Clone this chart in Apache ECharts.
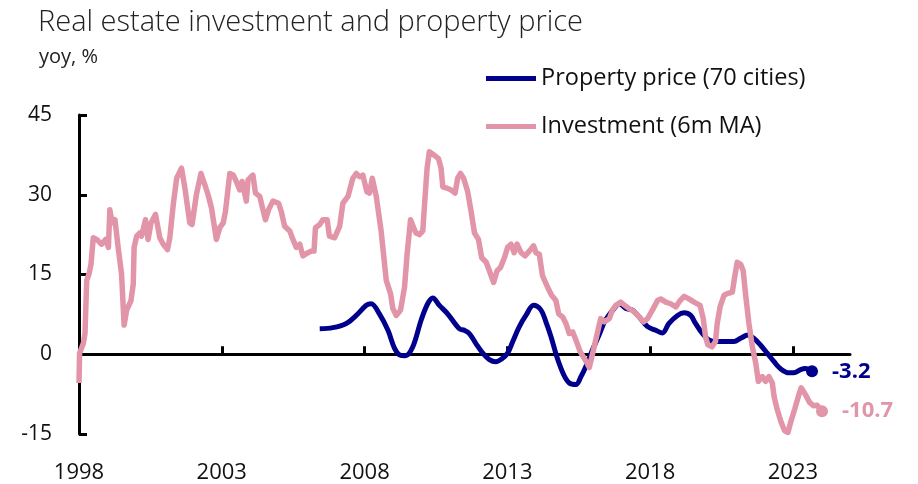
<!DOCTYPE html>
<html>
<head>
<meta charset="utf-8">
<title>Real estate investment and property price</title>
<script src="https://cdn.jsdelivr.net/npm/echarts@6/dist/echarts.min.js"></script>
<style>
  html, body { margin: 0; padding: 0; background: #fff; }
  #main { width: 918px; height: 484px; }
</style>
</head>
<body>
<div id="main"></div>
<script>
// axis ticks
const xTickYears = [1998, 2003, 2008, 2013, 2018, 2023];
const yTicks = [-15, 0, 15, 30, 45];

// property price, 70 cities, yoy %
const priceYears = [
  2006.43, 2006.89, 2007.36, 2007.71, 2008.06, 2008.23, 2008.52, 2008.82, 2009.05, 2009.22,
  2009.43, 2009.69, 2009.98, 2010.21, 2010.39, 2010.62, 2010.91, 2011.32, 2011.50, 2011.67,
  2011.90, 2012.14, 2012.37, 2012.60, 2012.80, 2013.01, 2013.19, 2013.42, 2013.65, 2013.92,
  2014.18, 2014.35, 2014.53, 2014.73, 2014.97, 2015.17, 2015.40, 2015.58, 2015.75, 2015.98,
  2016.22, 2016.39, 2016.51, 2016.74, 2016.92, 2017.15, 2017.38, 2017.62, 2017.91, 2018.20,
  2018.43, 2018.66, 2018.96, 2019.19, 2019.42, 2019.59, 2019.83, 2020.06, 2020.30, 2020.70,
  2020.94, 2021.17, 2021.42, 2021.63, 2021.87, 2022.10, 2022.34, 2022.56, 2022.86, 2023.03,
  2023.27, 2023.44, 2023.67
];
const priceValues = [
  4.8, 5.0, 5.8, 7.3, 9.2, 9.5, 7.6, 4.5, 1.1, -0.1,
  -0.3, 1.4, 6.4, 9.5, 10.6, 9.2, 7.6, 4.8, 4.5, 3.9,
  2.0, 0.2, -1.0, -1.4, -0.9, 0.2, 2.4, 5.2, 7.3, 9.2,
  8.3, 6.1, 3.3, -0.4, -3.8, -5.4, -5.7, -4.2, -2.3, 0.8,
  3.7, 6.0, 7.0, 8.6, 9.5, 8.6, 8.3, 7.0, 5.2, 4.5,
  4.0, 5.8, 7.3, 7.8, 7.3, 5.8, 3.9, 2.7, 2.4, 2.4,
  2.4, 3.0, 3.6, 3.0, 1.7, 0.2, -1.4, -2.7, -3.5, -3.5,
  -2.9, -2.7, -3.2
];

// real estate investment, 6m moving average, yoy %
const investYears = [
  1998.00, 1998.02, 1998.15, 1998.21, 1998.27, 1998.35, 1998.42, 1998.50, 1998.62, 1998.79,
  1998.93, 1999.03, 1999.08, 1999.16, 1999.26, 1999.37, 1999.49, 1999.58, 1999.67, 1999.82,
  1999.90, 1999.93, 2000.02, 2000.13, 2000.19, 2000.33, 2000.42, 2000.52, 2000.68, 2000.83,
  2000.95, 2001.10, 2001.18, 2001.30, 2001.42, 2001.59, 2001.71, 2001.88, 2001.96, 2002.11,
  2002.27, 2002.41, 2002.52, 2002.64, 2002.81, 2002.93, 2003.05, 2003.13, 2003.28, 2003.40,
  2003.51, 2003.63, 2003.71, 2003.86, 2003.92, 2004.09, 2004.18, 2004.33, 2004.44, 2004.53,
  2004.64, 2004.79, 2004.99, 2005.08, 2005.20, 2005.38, 2005.49, 2005.61, 2005.73, 2005.84,
  2006.02, 2006.14, 2006.23, 2006.28, 2006.43, 2006.54, 2006.69, 2006.77, 2006.95, 2007.13,
  2007.24, 2007.42, 2007.59, 2007.71, 2007.83, 2007.94, 2008.08, 2008.17, 2008.27, 2008.41,
  2008.58, 2008.76, 2008.91, 2008.99, 2009.11, 2009.26, 2009.40, 2009.49, 2009.61, 2009.72,
  2009.80, 2009.92, 2010.04, 2010.10, 2010.19, 2010.27, 2010.45, 2010.59, 2010.68, 2010.74,
  2010.91, 2011.03, 2011.17, 2011.26, 2011.36, 2011.47, 2011.61, 2011.73, 2011.85, 2011.99,
  2012.10, 2012.26, 2012.37, 2012.52, 2012.64, 2012.76, 2012.90, 2013.01, 2013.13, 2013.24,
  2013.34, 2013.48, 2013.62, 2013.77, 2013.92, 2014.00, 2014.12, 2014.23, 2014.41, 2014.55,
  2014.70, 2014.80, 2014.94, 2015.05, 2015.17, 2015.29, 2015.40, 2015.55, 2015.72, 2015.87,
  2016.04, 2016.27, 2016.39, 2016.57, 2016.68, 2016.80, 2016.97, 2017.11, 2017.26, 2017.44,
  2017.62, 2017.77, 2017.91, 2018.08, 2018.26, 2018.37, 2018.55, 2018.72, 2018.90, 2019.05,
  2019.19, 2019.36, 2019.54, 2019.75, 2019.86, 2019.94, 2020.02, 2020.17, 2020.29, 2020.35,
  2020.45, 2020.59, 2020.70, 2020.88, 2020.96, 2021.05, 2021.17, 2021.26, 2021.34, 2021.46,
  2021.58, 2021.70, 2021.79, 2021.93, 2022.04, 2022.16, 2022.28, 2022.34, 2022.45, 2022.59,
  2022.71, 2022.83, 2022.92, 2023.06, 2023.21, 2023.29, 2023.44, 2023.59, 2023.73, 2023.85,
  2024.02
];
const investValues = [
  -5.4, 0.2, 2.0, 3.9, 13.9, 15.1, 16.9, 21.9, 21.6, 20.7,
  21.6, 20.1, 27.2, 24.7, 25.3, 20.1, 15.1, 5.5, 8.3, 10.1,
  13.2, 20.1, 22.2, 22.8, 22.2, 25.3, 21.6, 24.7, 26.3, 21.9,
  20.7, 19.7, 21.9, 28.1, 33.1, 35.0, 31.2, 24.7, 24.4, 30.0,
  34.0, 31.8, 30.0, 27.5, 21.6, 23.8, 24.7, 26.9, 34.0, 33.7,
  32.5, 30.9, 32.5, 28.8, 32.8, 33.7, 30.3, 29.7, 27.2, 25.3,
  27.2, 28.8, 28.4, 26.9, 24.1, 23.2, 21.6, 20.1, 20.7, 18.5,
  19.1, 19.4, 19.4, 23.8, 24.4, 25.3, 25.3, 22.2, 21.9, 24.1,
  28.4, 29.7, 33.1, 34.0, 33.4, 33.7, 30.6, 30.3, 33.1, 29.7,
  23.2, 13.9, 11.4, 8.6, 7.3, 8.3, 12.6, 18.8, 25.3, 23.8,
  22.8, 22.5, 23.2, 28.1, 35.0, 38.1, 37.4, 36.8, 35.0, 31.5,
  31.2, 30.9, 30.3, 33.1, 34.0, 33.1, 30.6, 26.9, 22.8, 21.6,
  18.2, 17.3, 15.7, 13.5, 15.7, 16.3, 18.2, 20.1, 20.7, 19.1,
  20.7, 19.1, 18.5, 19.4, 20.4, 19.1, 18.8, 14.8, 12.6, 11.1,
  10.1, 7.6, 7.0, 5.8, 3.9, 4.2, 2.7, 0.5, -1.0, -2.5,
  1.4, 6.7, 6.1, 6.7, 8.3, 9.2, 9.8, 9.2, 8.6, 8.0,
  7.0, 6.1, 6.7, 8.3, 10.1, 10.4, 9.8, 9.5, 8.9, 10.1,
  10.9, 10.4, 9.8, 9.2, 6.7, 3.3, 1.8, 1.4, 2.4, 5.8,
  8.9, 11.1, 11.4, 11.7, 14.5, 17.3, 16.9, 15.7, 11.4, 5.8,
  1.4, -1.7, -5.1, -4.2, -5.1, -4.2, -5.4, -7.9, -10.4, -12.8,
  -14.4, -14.7, -12.8, -10.4, -7.6, -6.3, -7.6, -9.1, -9.7, -9.6,
  -10.7
];

const navy = "#00008c";
const pink = "#e295a8";
const font = "Open Sans";

const pairs = (xs, ys) => xs.map((x, i) => [x, ys[i]]);
const priceData = pairs(priceYears, priceValues);
const investData = pairs(investYears, investValues);
const priceLast = priceData[priceData.length - 1];
const investLast = investData[investData.length - 1];

const myChart = echarts.init(document.getElementById("main"));

const option = {
  animation: false,
  textStyle: { fontFamily: font },
  title: [
    {
      text: "Real estate investment and property price",
      left: 38,
      top: 8,
      padding: 0,
      textStyle: { fontFamily: font, fontSize: 29, fontWeight: 300, color: "#222" },
    },
    {
      text: "yoy, %",
      left: 39,
      top: 47,
      padding: 0,
      textStyle: { fontFamily: font, fontSize: 20, fontWeight: "normal", color: "#222" },
    },
  ],
  legend: {
    orient: "vertical",
    left: 486,
    top: 65,
    padding: 0,
    itemWidth: 50,
    itemHeight: 5,
    itemGap: 21,
    icon: "rect",
    data: ["Property price (70 cities)", "Investment (6m MA)"],
    textStyle: { fontFamily: font, fontSize: 23.5, color: "#111", lineHeight: 27 },
  },
  grid: { left: 79, right: 68, top: 115, bottom: 46 },
  xAxis: [
    {
      type: "value",
      min: 1998,
      max: 2025,
      interval: 5,
      axisLine: { show: false, onZero: false },
      axisTick: { show: false },
      splitLine: { show: false },
      axisLabel: {
        customValues: xTickYears,
        formatter: (v) => String(v),
        margin: 28,
        fontSize: 22,
        color: "#111",
        fontFamily: font,
      },
    },
    {
      type: "value",
      position: "bottom",
      min: 1998,
      max: 2025,
      interval: 5,
      axisLine: { onZero: true, lineStyle: { color: "#000", width: 3 } },
      axisTick: { inside: true, length: 8, customValues: xTickYears, lineStyle: { color: "#000", width: 3 } },
      axisLabel: { show: false },
      splitLine: { show: false },
    },
  ],
  yAxis: {
    type: "value",
    min: yTicks[0],
    max: yTicks[yTicks.length - 1],
    interval: 15,
    axisLine: { show: true, onZero: false, lineStyle: { color: "#000", width: 3 } },
    axisTick: { inside: true, length: 8, lineStyle: { color: "#000", width: 3 } },
    axisLabel: { margin: 27, fontSize: 21, color: "#111", fontFamily: font },
    splitLine: { show: false },
  },
  series: [
    {
      name: "Property price (70 cities)",
      type: "line",
      data: priceData,
      showSymbol: false,
      smooth: 0.35,
      color: navy,
      lineStyle: { color: navy, width: 5 },
    },
    {
      name: "Investment (6m MA)",
      type: "line",
      data: investData,
      showSymbol: false,
      color: pink,
      lineStyle: { color: pink, width: 5.5, join: "round" },
    },
    {
      type: "scatter",
      data: [priceLast],
      symbolSize: 12,
      itemStyle: { color: navy, opacity: 1 },
      label: {
        show: true,
        position: "right",
        distance: 14,
        formatter: () => priceLast[1].toFixed(1),
        fontFamily: font,
        fontSize: 22,
        fontWeight: "bold",
        color: navy,
      },
    },
    {
      type: "scatter",
      data: [investLast],
      symbolSize: 12,
      itemStyle: { color: pink, opacity: 1 },
      label: {
        show: true,
        position: "right",
        distance: 14,
        formatter: () => investLast[1].toFixed(1),
        fontFamily: font,
        fontSize: 22,
        fontWeight: "bold",
        color: pink,
      },
    },
  ],
};

myChart.setOption(option);
</script>
</body>
</html>
